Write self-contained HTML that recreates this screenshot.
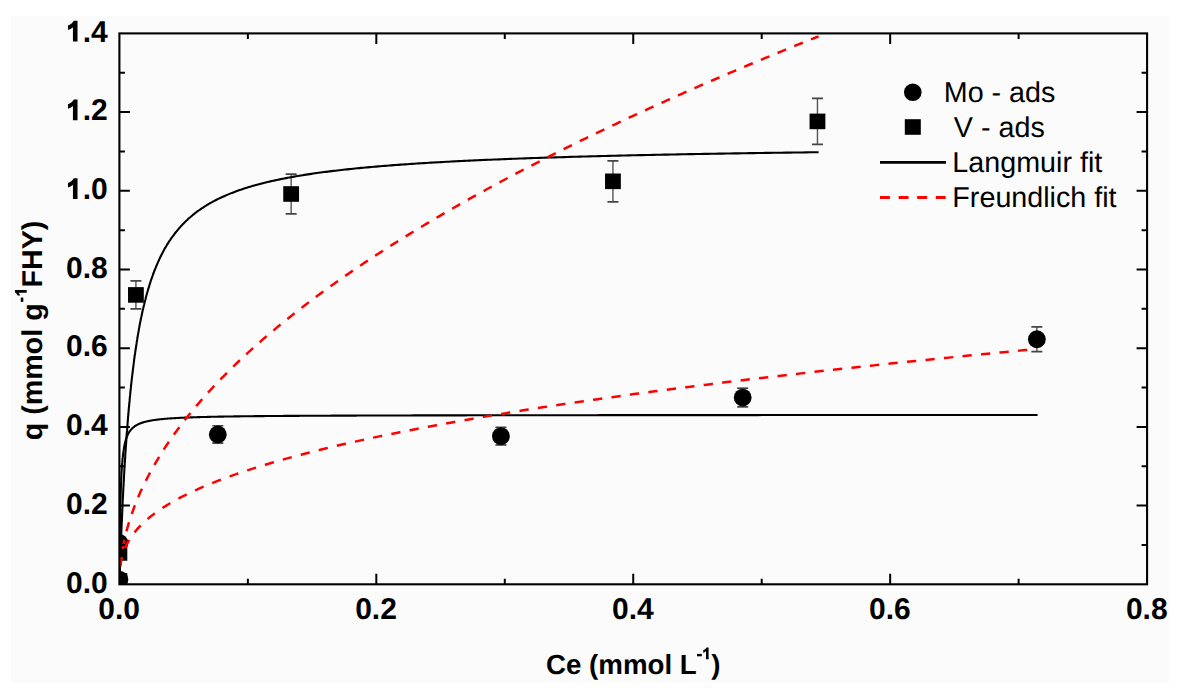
<!DOCTYPE html><html><head><meta charset="utf-8"><style>html,body{margin:0;padding:0;background:#fff;}svg{display:block;}text{font-family:"Liberation Sans",sans-serif;text-rendering:geometricPrecision;}</style></head><body>
<svg width="1182" height="694" viewBox="0 0 1182 694">
<rect x="11" y="16" width="1158" height="667" fill="#fcfbfb"/>
<defs><clipPath id="pc"><rect x="119.4" y="33.39999999999998" width="1027.68" height="550.9"/></clipPath></defs>
<g clip-path="url(#pc)">

<rect x="111.50" y="545.14" width="15.8" height="15.6" fill="#000"/>

<rect x="111.50" y="573.19" width="15.8" height="15.6" fill="#000"/>
<line x1="135.91" y1="280.91" x2="135.91" y2="308.93" stroke="#555" stroke-width="1.4"/><line x1="130.41" y1="280.91" x2="141.41" y2="280.91" stroke="#444" stroke-width="1.7"/><line x1="130.41" y1="308.93" x2="141.41" y2="308.93" stroke="#444" stroke-width="1.7"/>
<rect x="128.01" y="287.12" width="15.8" height="15.6" fill="#000"/>
<line x1="291.15" y1="174.19" x2="291.15" y2="213.78" stroke="#555" stroke-width="1.4"/><line x1="285.65" y1="174.19" x2="296.65" y2="174.19" stroke="#444" stroke-width="1.7"/><line x1="285.65" y1="213.78" x2="296.65" y2="213.78" stroke="#444" stroke-width="1.7"/>
<rect x="283.25" y="186.19" width="15.8" height="15.6" fill="#000"/>
<line x1="612.94" y1="160.85" x2="612.94" y2="201.78" stroke="#555" stroke-width="1.4"/><line x1="607.44" y1="160.85" x2="618.44" y2="160.85" stroke="#444" stroke-width="1.7"/><line x1="607.44" y1="201.78" x2="618.44" y2="201.78" stroke="#444" stroke-width="1.7"/>
<rect x="605.04" y="173.52" width="15.8" height="15.6" fill="#000"/>
<line x1="817.45" y1="98.37" x2="817.45" y2="144.41" stroke="#555" stroke-width="1.4"/><line x1="811.95" y1="98.37" x2="822.95" y2="98.37" stroke="#444" stroke-width="1.7"/><line x1="811.95" y1="144.41" x2="822.95" y2="144.41" stroke="#444" stroke-width="1.7"/>
<rect x="809.55" y="113.59" width="15.8" height="15.6" fill="#000"/>

<circle cx="119.40" cy="579.58" r="8.9" fill="#000"/>

<circle cx="119.40" cy="542.98" r="8.9" fill="#000"/>
<line x1="217.80" y1="425.76" x2="217.80" y2="443.15" stroke="#555" stroke-width="1.4"/><line x1="212.30" y1="425.76" x2="223.30" y2="425.76" stroke="#444" stroke-width="1.7"/><line x1="212.30" y1="443.15" x2="223.30" y2="443.15" stroke="#444" stroke-width="1.7"/>
<circle cx="217.80" cy="434.46" r="8.9" fill="#000"/>
<line x1="500.93" y1="427.33" x2="500.93" y2="444.96" stroke="#555" stroke-width="1.4"/><line x1="495.43" y1="427.33" x2="506.43" y2="427.33" stroke="#444" stroke-width="1.7"/><line x1="495.43" y1="444.96" x2="506.43" y2="444.96" stroke="#444" stroke-width="1.7"/>
<circle cx="500.93" cy="436.15" r="8.9" fill="#000"/>
<line x1="742.69" y1="388.22" x2="742.69" y2="406.87" stroke="#555" stroke-width="1.4"/><line x1="737.19" y1="388.22" x2="748.19" y2="388.22" stroke="#444" stroke-width="1.7"/><line x1="737.19" y1="406.87" x2="748.19" y2="406.87" stroke="#444" stroke-width="1.7"/>
<circle cx="742.69" cy="397.54" r="8.9" fill="#000"/>
<line x1="1036.86" y1="326.83" x2="1036.86" y2="351.62" stroke="#555" stroke-width="1.4"/><line x1="1031.36" y1="326.83" x2="1042.36" y2="326.83" stroke="#444" stroke-width="1.7"/><line x1="1031.36" y1="351.62" x2="1042.36" y2="351.62" stroke="#444" stroke-width="1.7"/>
<circle cx="1036.86" cy="339.23" r="8.9" fill="#000"/>
</g>
<g clip-path="url(#pc)" fill="none" stroke-linejoin="round">
<path d="M119.4 584.30L119.4 584.30L119.4 584.30L119.4 584.30L119.4 584.29L119.4 584.28L119.4 584.26L119.4 584.24L119.4 584.21L119.4 584.17L119.4 584.13L119.4 584.07L119.4 584.00L119.4 583.92L119.4 583.82L119.4 583.72L119.4 583.59L119.4 583.45L119.4 583.29L119.4 583.11L119.4 582.92L119.5 582.70L119.5 582.46L119.5 582.20L119.5 581.92L119.5 581.61L119.5 581.27L119.5 580.91L119.5 580.53L119.5 580.11L119.6 579.67L119.6 579.20L119.6 578.69L119.6 578.16L119.6 577.59L119.6 576.99L119.7 576.36L119.7 575.69L119.7 574.99L119.7 574.25L119.8 573.48L119.8 572.67L119.8 571.82L119.8 570.94L119.9 570.01L119.9 569.05L119.9 568.05L120.0 567.01L120.0 565.93L120.1 564.81L120.1 563.65L120.1 562.45L120.2 561.21L120.2 559.92L120.3 558.60L120.3 557.23L120.4 555.83L120.4 554.38L120.5 552.89L120.5 551.36L120.6 549.79L120.7 548.18L120.7 546.53L120.8 544.84L120.9 543.11L120.9 541.34L121.0 539.53L121.1 537.68L121.2 535.80L121.2 533.88L121.3 531.92L121.4 529.92L121.5 527.89L121.6 525.82L121.7 523.72L121.8 521.58L121.9 519.42L122.0 517.22L122.1 514.98L122.2 512.72L122.3 510.43L122.4 508.11L122.5 505.76L122.6 503.39L122.7 500.99L122.8 498.56L123.0 496.11L123.1 493.64L123.2 491.15L123.3 488.63L123.5 486.10L123.6 483.54L123.8 480.97L123.9 478.38L124.0 475.78L124.2 473.16L124.3 470.53L124.5 467.89L124.7 465.23L124.8 462.57L125.0 459.89L125.2 457.21L125.3 454.52L125.5 451.82L125.7 449.12L125.9 446.41L126.1 443.71L126.3 440.99L126.4 438.28L126.6 435.57L126.8 432.86L127.1 430.15L127.3 427.44L127.5 424.73L127.7 422.03L127.9 419.34L128.1 416.65L128.4 413.96L128.6 411.29L128.8 408.62L129.1 405.96L129.3 403.31L129.6 400.67L129.8 398.04L130.1 395.42L130.3 392.82L130.6 390.22L130.9 387.64L131.1 385.08L131.4 382.52L131.7 379.99L132.0 377.46L132.3 374.96L132.6 372.47L132.9 369.99L133.2 367.54L133.5 365.10L133.8 362.67L134.1 360.27L134.4 357.88L134.7 355.51L135.1 353.17L135.4 350.84L135.8 348.52L136.1 346.23L136.5 343.96L136.8 341.71L137.2 339.48L137.5 337.27L137.9 335.07L138.3 332.90L138.7 330.75L139.0 328.62L139.4 326.51L139.8 324.42L140.2 322.36L140.6 320.31L141.0 318.28L141.5 316.28L141.9 314.29L142.3 312.33L142.7 310.38L143.2 308.46L143.6 306.56L144.1 304.68L144.5 302.82L145.0 300.98L145.5 299.16L145.9 297.36L146.4 295.58L146.9 293.82L147.4 292.08L147.9 290.36L148.4 288.67L148.9 286.99L149.4 285.33L149.9 283.69L150.4 282.07L150.9 280.47L151.5 278.88L152.0 277.32L152.6 275.78L153.1 274.25L153.7 272.74L154.2 271.25L154.8 269.78L155.4 268.33L156.0 266.89L156.6 265.48L157.2 264.08L157.8 262.70L158.4 261.33L159.0 259.98L159.6 258.65L160.2 257.34L160.9 256.04L161.5 254.76L162.2 253.49L162.8 252.24L163.5 251.01L164.1 249.79L164.8 248.59L165.5 247.40L166.2 246.23L166.9 245.07L167.6 243.92L168.3 242.80L169.0 241.68L169.7 240.58L170.5 239.50L171.2 238.43L171.9 237.37L172.7 236.32L173.5 235.29L174.2 234.28L175.0 233.27L175.8 232.28L176.6 231.30L177.4 230.33L178.2 229.38L179.0 228.44L179.8 227.51L180.6 226.59L181.4 225.68L182.3 224.79L183.1 223.91L184.0 223.03L184.8 222.17L185.7 221.33L186.6 220.49L187.5 219.66L188.3 218.84L189.2 218.04L190.2 217.24L191.1 216.45L192.0 215.68L192.9 214.91L193.9 214.15L194.8 213.41L195.8 212.67L196.7 211.94L197.7 211.22L198.7 210.51L199.7 209.81L200.7 209.12L201.7 208.44L202.7 207.76L203.7 207.10L204.7 206.44L205.8 205.79L206.8 205.15L207.9 204.52L208.9 203.89L210.0 203.27L211.1 202.66L212.2 202.06L213.2 201.47L214.4 200.88L215.5 200.30L216.6 199.73L217.7 199.16L218.9 198.61L220.0 198.05L221.2 197.51L222.3 196.97L223.5 196.44L224.7 195.92L225.9 195.40L227.1 194.88L228.3 194.38L229.5 193.88L230.7 193.39L232.0 192.90L233.2 192.42L234.5 191.94L235.7 191.47L237.0 191.01L238.3 190.55L239.6 190.10L240.9 189.65L242.2 189.21L243.5 188.77L244.8 188.34L246.2 187.91L247.5 187.49L248.9 187.07L250.3 186.66L251.6 186.25L253.0 185.85L254.4 185.46L255.8 185.06L257.2 184.68L258.7 184.29L260.1 183.91L261.5 183.54L263.0 183.17L264.5 182.80L265.9 182.44L267.4 182.09L268.9 181.73L270.4 181.38L271.9 181.04L273.5 180.70L275.0 180.36L276.6 180.03L278.1 179.70L279.7 179.37L281.2 179.05L282.8 178.73L284.4 178.42L286.0 178.11L287.7 177.80L289.3 177.49L290.9 177.19L292.6 176.90L294.2 176.60L295.9 176.31L297.6 176.03L299.3 175.74L301.0 175.46L302.7 175.18L304.4 174.91L306.2 174.64L307.9 174.37L309.7 174.10L311.4 173.84L313.2 173.58L315.0 173.32L316.8 173.07L318.6 172.82L320.4 172.57L322.3 172.32L324.1 172.08L326.0 171.84L327.8 171.60L329.7 171.36L331.6 171.13L333.5 170.90L335.4 170.67L337.3 170.45L339.3 170.22L341.2 170.00L343.2 169.78L345.1 169.57L347.1 169.35L349.1 169.14L351.1 168.93L353.1 168.72L355.1 168.52L357.2 168.32L359.2 168.11L361.3 167.92L363.4 167.72L365.4 167.52L367.5 167.33L369.7 167.14L371.8 166.95L373.9 166.77L376.1 166.58L378.2 166.40L380.4 166.22L382.6 166.04L384.8 165.86L387.0 165.69L389.2 165.51L391.4 165.34L393.6 165.17L395.9 165.00L398.2 164.83L400.4 164.67L402.7 164.50L405.0 164.34L407.4 164.18L409.7 164.02L412.0 163.87L414.4 163.71L416.7 163.56L419.1 163.40L421.5 163.25L423.9 163.10L426.3 162.96L428.8 162.81L431.2 162.66L433.7 162.52L436.1 162.38L438.6 162.24L441.1 162.10L443.6 161.96L446.1 161.82L448.7 161.69L451.2 161.55L453.8 161.42L456.3 161.29L458.9 161.16L461.5 161.03L464.1 160.90L466.8 160.77L469.4 160.65L472.1 160.52L474.7 160.40L477.4 160.28L480.1 160.16L482.8 160.04L485.5 159.92L488.2 159.80L491.0 159.68L493.7 159.57L496.5 159.45L499.3 159.34L502.1 159.23L504.9 159.12L507.7 159.01L510.6 158.90L513.4 158.79L516.3 158.68L519.2 158.57L522.1 158.47L525.0 158.36L527.9 158.26L530.9 158.16L533.8 158.06L536.8 157.96L539.8 157.86L542.8 157.76L545.8 157.66L548.8 157.56L551.8 157.47L554.9 157.37L558.0 157.28L561.0 157.18L564.1 157.09L567.2 157.00L570.4 156.91L573.5 156.82L576.7 156.73L579.8 156.64L583.0 156.55L586.2 156.46L589.4 156.38L592.6 156.29L595.9 156.21L599.1 156.12L602.4 156.04L605.7 155.96L609.0 155.87L612.3 155.79L615.7 155.71L619.0 155.63L622.4 155.55L625.7 155.47L629.1 155.40L632.5 155.32L635.9 155.24L639.4 155.17L642.8 155.09L646.3 155.02L649.8 154.94L653.3 154.87L656.8 154.79L660.3 154.72L663.9 154.65L667.4 154.58L671.0 154.51L674.6 154.44L678.2 154.37L681.8 154.30L685.4 154.23L689.1 154.17L692.8 154.10L696.5 154.03L700.2 153.97L703.9 153.90L707.6 153.84L711.3 153.77L715.1 153.71L718.9 153.64L722.7 153.58L726.5 153.52L730.3 153.46L734.2 153.40L738.0 153.34L741.9 153.28L745.8 153.22L749.7 153.16L753.6 153.10L757.5 153.04L761.5 152.98L765.5 152.92L769.5 152.87L773.5 152.81L777.5 152.75L781.5 152.70L785.6 152.64L789.7 152.59L793.7 152.53L797.8 152.48L802.0 152.43L806.1 152.37L810.3 152.32L814.4 152.27L818.6 152.22" stroke="#000" stroke-width="2.1"/>
<path d="M119.4 584.30L119.4 584.30L119.4 584.29L119.4 584.27L119.4 584.23L119.4 584.16L119.4 584.06L119.4 583.92L119.4 583.73L119.4 583.49L119.4 583.19L119.4 582.83L119.4 582.40L119.4 581.89L119.4 581.30L119.4 580.62L119.4 579.85L119.4 578.99L119.4 578.04L119.5 576.98L119.5 575.83L119.5 574.57L119.5 573.21L119.5 571.74L119.5 570.17L119.5 568.50L119.5 566.74L119.5 564.87L119.6 562.92L119.6 560.87L119.6 558.74L119.6 556.53L119.6 554.25L119.7 551.90L119.7 549.48L119.7 547.02L119.7 544.50L119.8 541.94L119.8 539.35L119.8 536.73L119.9 534.09L119.9 531.43L119.9 528.76L120.0 526.10L120.0 523.43L120.1 520.78L120.1 518.14L120.2 515.52L120.2 512.92L120.3 510.36L120.3 507.82L120.4 505.32L120.4 502.86L120.5 500.44L120.6 498.06L120.6 495.73L120.7 493.45L120.8 491.21L120.8 489.03L120.9 486.90L121.0 484.82L121.1 482.79L121.2 480.81L121.2 478.89L121.3 477.01L121.4 475.19L121.5 473.42L121.6 471.71L121.7 470.04L121.8 468.42L121.9 466.85L122.0 465.33L122.1 463.85L122.3 462.42L122.4 461.04L122.5 459.69L122.6 458.39L122.8 457.14L122.9 455.92L123.0 454.74L123.2 453.60L123.3 452.49L123.5 451.43L123.6 450.39L123.8 449.39L123.9 448.42L124.1 447.49L124.2 446.58L124.4 445.71L124.6 444.86L124.8 444.04L124.9 443.24L125.1 442.48L125.3 441.73L125.5 441.01L125.7 440.32L125.9 439.64L126.1 438.99L126.3 438.36L126.5 437.75L126.7 437.16L127.0 436.58L127.2 436.03L127.4 435.49L127.7 434.97L127.9 434.46L128.1 433.97L128.4 433.50L128.7 433.04L128.9 432.59L129.2 432.16L129.4 431.74L129.7 431.34L130.0 430.94L130.3 430.56L130.6 430.19L130.9 429.83L131.2 429.48L131.5 429.14L131.8 428.81L132.1 428.49L132.4 428.18L132.7 427.88L133.1 427.59L133.4 427.30L133.7 427.03L134.1 426.76L134.4 426.50L134.8 426.24L135.2 425.99L135.5 425.75L135.9 425.52L136.3 425.29L136.7 425.07L137.1 424.86L137.5 424.65L137.9 424.44L138.3 424.25L138.7 424.05L139.1 423.86L139.6 423.68L140.0 423.50L140.4 423.33L140.9 423.16L141.3 422.99L141.8 422.83L142.3 422.68L142.7 422.52L143.2 422.38L143.7 422.23L144.2 422.09L144.7 421.95L145.2 421.82L145.7 421.68L146.2 421.56L146.8 421.43L147.3 421.31L147.8 421.19L148.4 421.07L148.9 420.96L149.5 420.85L150.1 420.74L150.6 420.63L151.2 420.53L151.8 420.43L152.4 420.33L153.0 420.23L153.6 420.14L154.2 420.05L154.9 419.96L155.5 419.87L156.1 419.78L156.8 419.70L157.4 419.62L158.1 419.54L158.8 419.46L159.4 419.38L160.1 419.30L160.8 419.23L161.5 419.16L162.2 419.09L163.0 419.02L163.7 418.95L164.4 418.88L165.2 418.82L165.9 418.76L166.7 418.69L167.4 418.63L168.2 418.57L169.0 418.51L169.8 418.46L170.6 418.40L171.4 418.35L172.2 418.29L173.0 418.24L173.9 418.19L174.7 418.14L175.6 418.09L176.4 418.04L177.3 417.99L178.2 417.94L179.1 417.90L179.9 417.85L180.9 417.81L181.8 417.76L182.7 417.72L183.6 417.68L184.6 417.64L185.5 417.60L186.5 417.56L187.4 417.52L188.4 417.48L189.4 417.44L190.4 417.41L191.4 417.37L192.4 417.33L193.4 417.30L194.5 417.27L195.5 417.23L196.6 417.20L197.6 417.17L198.7 417.14L199.8 417.10L200.9 417.07L202.0 417.04L203.1 417.01L204.2 416.98L205.3 416.96L206.5 416.93L207.6 416.90L208.8 416.87L209.9 416.85L211.1 416.82L212.3 416.79L213.5 416.77L214.7 416.74L216.0 416.72L217.2 416.69L218.4 416.67L219.7 416.65L220.9 416.62L222.2 416.60L223.5 416.58L224.8 416.56L226.1 416.54L227.4 416.52L228.8 416.49L230.1 416.47L231.4 416.45L232.8 416.43L234.2 416.41L235.6 416.39L237.0 416.38L238.4 416.36L239.8 416.34L241.2 416.32L242.6 416.30L244.1 416.29L245.6 416.27L247.0 416.25L248.5 416.23L250.0 416.22L251.5 416.20L253.0 416.19L254.6 416.17L256.1 416.15L257.7 416.14L259.2 416.12L260.8 416.11L262.4 416.09L264.0 416.08L265.6 416.07L267.2 416.05L268.9 416.04L270.5 416.02L272.2 416.01L273.8 416.00L275.5 415.98L277.2 415.97L278.9 415.96L280.7 415.95L282.4 415.93L284.1 415.92L285.9 415.91L287.7 415.90L289.5 415.89L291.2 415.88L293.1 415.86L294.9 415.85L296.7 415.84L298.6 415.83L300.4 415.82L302.3 415.81L304.2 415.80L306.1 415.79L308.0 415.78L309.9 415.77L311.8 415.76L313.8 415.75L315.8 415.74L317.7 415.73L319.7 415.72L321.7 415.71L323.7 415.70L325.8 415.69L327.8 415.68L329.9 415.68L331.9 415.67L334.0 415.66L336.1 415.65L338.2 415.64L340.4 415.63L342.5 415.62L344.7 415.62L346.8 415.61L349.0 415.60L351.2 415.59L353.4 415.59L355.6 415.58L357.9 415.57L360.1 415.56L362.4 415.56L364.7 415.55L366.9 415.54L369.2 415.53L371.6 415.53L373.9 415.52L376.3 415.51L378.6 415.51L381.0 415.50L383.4 415.49L385.8 415.49L388.2 415.48L390.7 415.48L393.1 415.47L395.6 415.46L398.1 415.46L400.5 415.45L403.1 415.45L405.6 415.44L408.1 415.43L410.7 415.43L413.2 415.42L415.8 415.42L418.4 415.41L421.0 415.41L423.7 415.40L426.3 415.39L429.0 415.39L431.7 415.38L434.4 415.38L437.1 415.37L439.8 415.37L442.5 415.36L445.3 415.36L448.0 415.35L450.8 415.35L453.6 415.34L456.4 415.34L459.3 415.34L462.1 415.33L465.0 415.33L467.9 415.32L470.8 415.32L473.7 415.31L476.6 415.31L479.6 415.30L482.5 415.30L485.5 415.30L488.5 415.29L491.5 415.29L494.5 415.28L497.6 415.28L500.6 415.28L503.7 415.27L506.8 415.27L509.9 415.26L513.0 415.26L516.2 415.26L519.3 415.25L522.5 415.25L525.7 415.25L528.9 415.24L532.1 415.24L535.3 415.23L538.6 415.23L541.9 415.23L545.2 415.22L548.5 415.22L551.8 415.22L555.1 415.21L558.5 415.21L561.9 415.21L565.3 415.20L568.7 415.20L572.1 415.20L575.6 415.19L579.0 415.19L582.5 415.19L586.0 415.19L589.5 415.18L593.1 415.18L596.6 415.18L600.2 415.17L603.8 415.17L607.4 415.17L611.0 415.16L614.7 415.16L618.3 415.16L622.0 415.16L625.7 415.15L629.4 415.15L633.1 415.15L636.9 415.15L640.6 415.14L644.4 415.14L648.2 415.14L652.1 415.13L655.9 415.13L659.8 415.13L663.6 415.13L667.5 415.12L671.5 415.12L675.4 415.12L679.3 415.12L683.3 415.12L687.3 415.11L691.3 415.11L695.3 415.11L699.4 415.11L703.4 415.10L707.5 415.10L711.6 415.10L715.8 415.10L719.9 415.09L724.1 415.09L728.2 415.09L732.4 415.09L736.7 415.09L740.9 415.08L745.1 415.08L749.4 415.08L753.7 415.08L758.0 415.08L762.4 415.07L766.7 415.07L771.1 415.07L775.5 415.07L779.9 415.07L784.3 415.06L788.8 415.06L793.3 415.06L797.8 415.06L802.3 415.06L806.8 415.06L811.4 415.05L815.9 415.05L820.5 415.05L825.1 415.05L829.8 415.05L834.4 415.04L839.1 415.04L843.8 415.04L848.5 415.04L853.2 415.04L858.0 415.04L862.8 415.03L867.6 415.03L872.4 415.03L877.2 415.03L882.1 415.03L886.9 415.03L891.8 415.02L896.8 415.02L901.7 415.02L906.7 415.02L911.7 415.02L916.7 415.02L921.7 415.02L926.7 415.01L931.8 415.01L936.9 415.01L942.0 415.01L947.1 415.01L952.3 415.01L957.4 415.01L962.6 415.00L967.9 415.00L973.1 415.00L978.4 415.00L983.6 415.00L988.9 415.00L994.3 415.00L999.6 415.00L1005.0 414.99L1010.4 414.99L1015.8 414.99L1021.2 414.99L1026.7 414.99L1032.1 414.99L1037.6 414.99" stroke="#000" stroke-width="2.1"/>
<path d="M119.6 574.82L119.7 574.41L119.7 573.98L119.7 573.56L119.7 573.12L119.8 572.68L119.8 572.23L119.8 571.78L119.8 571.33L119.9 570.86L119.9 570.39L119.9 569.92L120.0 569.44L120.0 568.95L120.1 568.46L120.1 567.97L120.1 567.47L120.2 566.96L120.2 566.45L120.3 565.93L120.3 565.41L120.4 564.89L120.4 564.35L120.5 563.82L120.5 563.28L120.6 562.73L120.7 562.18L120.7 561.62L120.8 561.06L120.9 560.50L120.9 559.93L121.0 559.35L121.1 558.78L121.2 558.19L121.2 557.60L121.3 557.01L121.4 556.41L121.5 555.81L121.6 555.21L121.7 554.60L121.8 553.98L121.9 553.36L122.0 552.74L122.1 552.11L122.2 551.48L122.3 550.85L122.4 550.21L122.5 549.56L122.6 548.91L122.7 548.26L122.8 547.60L123.0 546.94L123.1 546.28L123.2 545.61L123.3 544.94L123.5 544.26L123.6 543.58L123.8 542.89L123.9 542.21L124.0 541.51L124.2 540.82L124.3 540.12L124.5 539.41L124.7 538.70L124.8 537.99L125.0 537.28L125.2 536.56L125.3 535.83L125.5 535.11L125.7 534.38L125.9 533.64L126.1 532.91L126.3 532.16L126.4 531.42L126.6 530.67L126.8 529.92L127.1 529.16L127.3 528.40L127.5 527.64L127.7 526.87L127.9 526.10L128.1 525.33L128.4 524.55L128.6 523.77L128.8 522.98L129.1 522.20L129.3 521.40L129.6 520.61L129.8 519.81L130.1 519.01L130.3 518.21L130.6 517.40L130.9 516.58L131.1 515.77L131.4 514.95L131.7 514.13L132.0 513.30L132.3 512.48L132.6 511.64L132.9 510.81L133.2 509.97L133.5 509.13L133.8 508.28L134.1 507.44L134.4 506.58L134.7 505.73L135.1 504.87L135.4 504.01L135.8 503.15L136.1 502.28L136.5 501.41L136.8 500.53L137.2 499.66L137.5 498.78L137.9 497.89L138.3 497.01L138.7 496.12L139.0 495.23L139.4 494.33L139.8 493.43L140.2 492.53L140.6 491.62L141.0 490.72L141.5 489.81L141.9 488.89L142.3 487.98L142.7 487.06L143.2 486.13L143.6 485.21L144.1 484.28L144.5 483.34L145.0 482.41L145.5 481.47L145.9 480.53L146.4 479.59L146.9 478.64L147.4 477.69L147.9 476.74L148.4 475.78L148.9 474.82L149.4 473.86L149.9 472.90L150.4 471.93L150.9 470.96L151.5 469.99L152.0 469.01L152.6 468.03L153.1 467.05L153.7 466.07L154.2 465.08L154.8 464.09L155.4 463.10L156.0 462.10L156.6 461.10L157.2 460.10L157.8 459.10L158.4 458.09L159.0 457.08L159.6 456.07L160.2 455.06L160.9 454.04L161.5 453.02L162.2 451.99L162.8 450.97L163.5 449.94L164.1 448.91L164.8 447.87L165.5 446.84L166.2 445.80L166.9 444.75L167.6 443.71L168.3 442.66L169.0 441.61L169.7 440.56L170.5 439.50L171.2 438.44L171.9 437.38L172.7 436.32L173.5 435.25L174.2 434.18L175.0 433.11L175.8 432.04L176.6 430.96L177.4 429.88L178.2 428.80L179.0 427.72L179.8 426.63L180.6 425.54L181.4 424.45L182.3 423.35L183.1 422.25L184.0 421.15L184.8 420.05L185.7 418.95L186.6 417.84L187.5 416.73L188.3 415.61L189.2 414.50L190.2 413.38L191.1 412.26L192.0 411.14L192.9 410.01L193.9 408.88L194.8 407.75L195.8 406.62L196.7 405.49L197.7 404.35L198.7 403.21L199.7 402.06L200.7 400.92L201.7 399.77L202.7 398.62L203.7 397.47L204.7 396.31L205.8 395.15L206.8 393.99L207.9 392.83L208.9 391.67L210.0 390.50L211.1 389.33L212.2 388.16L213.2 386.98L214.4 385.80L215.5 384.63L216.6 383.44L217.7 382.26L218.9 381.07L220.0 379.88L221.2 378.69L222.3 377.50L223.5 376.30L224.7 375.10L225.9 373.90L227.1 372.70L228.3 371.49L229.5 370.28L230.7 369.07L232.0 367.86L233.2 366.65L234.5 365.43L235.7 364.21L237.0 362.99L238.3 361.76L239.6 360.53L240.9 359.30L242.2 358.07L243.5 356.84L244.8 355.60L246.2 354.36L247.5 353.12L248.9 351.88L250.3 350.64L251.6 349.39L253.0 348.14L254.4 346.89L255.8 345.63L257.2 344.37L258.7 343.12L260.1 341.85L261.5 340.59L263.0 339.32L264.5 338.06L265.9 336.79L267.4 335.51L268.9 334.24L270.4 332.96L271.9 331.68L273.5 330.40L275.0 329.12L276.6 327.83L278.1 326.54L279.7 325.25L281.2 323.96L282.8 322.66L284.4 321.37L286.0 320.07L287.7 318.77L289.3 317.46L290.9 316.16L292.6 314.85L294.2 313.54L295.9 312.23L297.6 310.91L299.3 309.59L301.0 308.27L302.7 306.95L304.4 305.63L306.2 304.30L307.9 302.98L309.7 301.65L311.4 300.31L313.2 298.98L315.0 297.64L316.8 296.31L318.6 294.96L320.4 293.62L322.3 292.28L324.1 290.93L326.0 289.58L327.8 288.23L329.7 286.88L331.6 285.52L333.5 284.16L335.4 282.80L337.3 281.44L339.3 280.08L341.2 278.71L343.2 277.34L345.1 275.97L347.1 274.60L349.1 273.22L351.1 271.85L353.1 270.47L355.1 269.09L357.2 267.70L359.2 266.32L361.3 264.93L363.4 263.54L365.4 262.15L367.5 260.76L369.7 259.36L371.8 257.97L373.9 256.57L376.1 255.16L378.2 253.76L380.4 252.35L382.6 250.95L384.8 249.54L387.0 248.12L389.2 246.71L391.4 245.29L393.6 243.88L395.9 242.46L398.2 241.03L400.4 239.61L402.7 238.18L405.0 236.76L407.4 235.33L409.7 233.89L412.0 232.46L414.4 231.02L416.7 229.58L419.1 228.14L421.5 226.70L423.9 225.26L426.3 223.81L428.8 222.36L431.2 220.91L433.7 219.46L436.1 218.01L438.6 216.55L441.1 215.09L443.6 213.63L446.1 212.17L448.7 210.70L451.2 209.24L453.8 207.77L456.3 206.30L458.9 204.83L461.5 203.35L464.1 201.88L466.8 200.40L469.4 198.92L472.1 197.44L474.7 195.95L477.4 194.47L480.1 192.98L482.8 191.49L485.5 190.00L488.2 188.50L491.0 187.01L493.7 185.51L496.5 184.01L499.3 182.51L502.1 181.00L504.9 179.50L507.7 177.99L510.6 176.48L513.4 174.97L516.3 173.46L519.2 171.94L522.1 170.43L525.0 168.91L527.9 167.39L530.9 165.86L533.8 164.34L536.8 162.81L539.8 161.28L542.8 159.75L545.8 158.22L548.8 156.69L551.8 155.15L554.9 153.61L558.0 152.07L561.0 150.53L564.1 148.99L567.2 147.44L570.4 145.90L573.5 144.35L576.7 142.80L579.8 141.24L583.0 139.69L586.2 138.13L589.4 136.57L592.6 135.01L595.9 133.45L599.1 131.89L602.4 130.32L605.7 128.75L609.0 127.18L612.3 125.61L615.7 124.04L619.0 122.46L622.4 120.88L625.7 119.30L629.1 117.72L632.5 116.14L635.9 114.56L639.4 112.97L642.8 111.38L646.3 109.79L649.8 108.20L653.3 106.60L656.8 105.01L660.3 103.41L663.9 101.81L667.4 100.21L671.0 98.61L674.6 97.00L678.2 95.40L681.8 93.79L685.4 92.18L689.1 90.56L692.8 88.95L696.5 87.34L700.2 85.72L703.9 84.10L707.6 82.48L711.3 80.85L715.1 79.23L718.9 77.60L722.7 75.97L726.5 74.34L730.3 72.71L734.2 71.08L738.0 69.44L741.9 67.81L745.8 66.17L749.7 64.52L753.6 62.88L757.5 61.24L761.5 59.59L765.5 57.94L769.5 56.29L773.5 54.64L777.5 52.99L781.5 51.33L785.6 49.68L789.7 48.02L793.7 46.36L797.8 44.69L802.0 43.03L806.1 41.36L810.3 39.70L814.4 38.03L818.6 36.36" stroke="#f00" stroke-width="2.5" stroke-dasharray="9.3 8.75" stroke-dashoffset="9.85"/>
<path d="M119.5 574.94L119.6 574.56L119.6 574.17L119.6 573.78L119.6 573.40L119.6 573.01L119.7 572.62L119.7 572.23L119.7 571.83L119.7 571.44L119.8 571.04L119.8 570.65L119.8 570.25L119.9 569.85L119.9 569.45L119.9 569.05L120.0 568.65L120.0 568.25L120.1 567.84L120.1 567.44L120.2 567.03L120.2 566.63L120.3 566.22L120.3 565.81L120.4 565.40L120.4 564.99L120.5 564.58L120.6 564.17L120.6 563.76L120.7 563.35L120.8 562.93L120.8 562.52L120.9 562.10L121.0 561.69L121.1 561.27L121.1 560.85L121.2 560.44L121.3 560.02L121.4 559.60L121.5 559.18L121.6 558.76L121.7 558.33L121.8 557.91L121.9 557.49L122.0 557.07L122.1 556.64L122.3 556.22L122.4 555.79L122.5 555.37L122.6 554.94L122.7 554.51L122.9 554.09L123.0 553.66L123.2 553.23L123.3 552.80L123.4 552.37L123.6 551.94L123.7 551.51L123.9 551.08L124.1 550.64L124.2 550.21L124.4 549.78L124.6 549.35L124.7 548.91L124.9 548.48L125.1 548.04L125.3 547.61L125.5 547.17L125.7 546.73L125.9 546.30L126.1 545.86L126.3 545.42L126.5 544.98L126.7 544.54L127.0 544.10L127.2 543.66L127.4 543.22L127.6 542.78L127.9 542.34L128.1 541.90L128.4 541.46L128.6 541.02L128.9 540.57L129.2 540.13L129.4 539.69L129.7 539.24L130.0 538.80L130.3 538.35L130.6 537.91L130.8 537.46L131.1 537.01L131.4 536.57L131.8 536.12L132.1 535.67L132.4 535.23L132.7 534.78L133.0 534.33L133.4 533.88L133.7 533.43L134.1 532.98L134.4 532.53L134.8 532.08L135.1 531.63L135.5 531.18L135.9 530.73L136.3 530.28L136.7 529.82L137.0 529.37L137.4 528.92L137.8 528.46L138.3 528.01L138.7 527.56L139.1 527.10L139.5 526.65L140.0 526.19L140.4 525.74L140.8 525.28L141.3 524.83L141.8 524.37L142.2 523.91L142.7 523.45L143.2 523.00L143.7 522.54L144.1 522.08L144.6 521.62L145.2 521.16L145.7 520.71L146.2 520.25L146.7 519.79L147.2 519.33L147.8 518.87L148.3 518.41L148.9 517.95L149.4 517.48L150.0 517.02L150.6 516.56L151.2 516.10L151.7 515.64L152.3 515.17L152.9 514.71L153.6 514.25L154.2 513.78L154.8 513.32L155.4 512.86L156.1 512.39L156.7 511.93L157.4 511.46L158.0 511.00L158.7 510.53L159.4 510.07L160.1 509.60L160.8 509.13L161.5 508.67L162.2 508.20L162.9 507.73L163.6 507.27L164.3 506.80L165.1 506.33L165.8 505.86L166.6 505.39L167.3 504.93L168.1 504.46L168.9 503.99L169.7 503.52L170.5 503.05L171.3 502.58L172.1 502.11L172.9 501.64L173.8 501.17L174.6 500.69L175.5 500.22L176.3 499.75L177.2 499.28L178.1 498.81L178.9 498.34L179.8 497.86L180.7 497.39L181.7 496.92L182.6 496.44L183.5 495.97L184.4 495.50L185.4 495.02L186.3 494.55L187.3 494.07L188.3 493.60L189.3 493.12L190.3 492.65L191.3 492.17L192.3 491.70L193.3 491.22L194.3 490.75L195.4 490.27L196.4 489.79L197.5 489.32L198.5 488.84L199.6 488.36L200.7 487.89L201.8 487.41L202.9 486.93L204.0 486.45L205.2 485.97L206.3 485.49L207.5 485.02L208.6 484.54L209.8 484.06L211.0 483.58L212.2 483.10L213.4 482.62L214.6 482.14L215.8 481.66L217.0 481.18L218.3 480.70L219.5 480.22L220.8 479.73L222.0 479.25L223.3 478.77L224.6 478.29L225.9 477.81L227.2 477.33L228.6 476.84L229.9 476.36L231.2 475.88L232.6 475.39L234.0 474.91L235.4 474.43L236.7 473.94L238.1 473.46L239.6 472.98L241.0 472.49L242.4 472.01L243.9 471.52L245.3 471.04L246.8 470.55L248.3 470.07L249.8 469.58L251.3 469.10L252.8 468.61L254.3 468.13L255.9 467.64L257.4 467.15L259.0 466.67L260.5 466.18L262.1 465.69L263.7 465.21L265.3 464.72L267.0 464.23L268.6 463.74L270.2 463.26L271.9 462.77L273.6 462.28L275.2 461.79L276.9 461.30L278.6 460.81L280.4 460.32L282.1 459.83L283.8 459.35L285.6 458.86L287.4 458.37L289.1 457.88L290.9 457.39L292.7 456.90L294.6 456.41L296.4 455.91L298.2 455.42L300.1 454.93L302.0 454.44L303.8 453.95L305.7 453.46L307.6 452.97L309.6 452.48L311.5 451.98L313.4 451.49L315.4 451.00L317.4 450.51L319.4 450.01L321.4 449.52L323.4 449.03L325.4 448.53L327.4 448.04L329.5 447.55L331.6 447.05L333.6 446.56L335.7 446.07L337.8 445.57L340.0 445.08L342.1 444.58L344.2 444.09L346.4 443.59L348.6 443.10L350.8 442.60L353.0 442.11L355.2 441.61L357.4 441.12L359.7 440.62L361.9 440.12L364.2 439.63L366.5 439.13L368.8 438.64L371.1 438.14L373.4 437.64L375.8 437.14L378.1 436.65L380.5 436.15L382.9 435.65L385.3 435.16L387.7 434.66L390.2 434.16L392.6 433.66L395.1 433.16L397.5 432.66L400.0 432.17L402.5 431.67L405.1 431.17L407.6 430.67L410.1 430.17L412.7 429.67L415.3 429.17L417.9 428.67L420.5 428.17L423.1 427.67L425.8 427.17L428.4 426.67L431.1 426.17L433.8 425.67L436.5 425.17L439.2 424.67L441.9 424.17L444.7 423.67L447.4 423.17L450.2 422.66L453.0 422.16L455.8 421.66L458.7 421.16L461.5 420.66L464.4 420.15L467.2 419.65L470.1 419.15L473.0 418.65L476.0 418.14L478.9 417.64L481.9 417.14L484.8 416.64L487.8 416.13L490.8 415.63L493.8 415.12L496.9 414.62L499.9 414.12L503.0 413.61L506.1 413.11L509.2 412.60L512.3 412.10L515.4 411.60L518.6 411.09L521.7 410.59L524.9 410.08L528.1 409.58L531.4 409.07L534.6 408.56L537.8 408.06L541.1 407.55L544.4 407.05L547.7 406.54L551.0 406.04L554.4 405.53L557.7 405.02L561.1 404.52L564.5 404.01L567.9 403.50L571.3 403.00L574.7 402.49L578.2 401.98L581.7 401.47L585.2 400.97L588.7 400.46L592.2 399.95L595.8 399.44L599.3 398.94L602.9 398.43L606.5 397.92L610.1 397.41L613.8 396.90L617.4 396.39L621.1 395.88L624.8 395.38L628.5 394.87L632.2 394.36L635.9 393.85L639.7 393.34L643.5 392.83L647.3 392.32L651.1 391.81L654.9 391.30L658.8 390.79L662.7 390.28L666.5 389.77L670.4 389.26L674.4 388.75L678.3 388.24L682.3 387.73L686.3 387.22L690.3 386.70L694.3 386.19L698.3 385.68L702.4 385.17L706.5 384.66L710.6 384.15L714.7 383.64L718.8 383.12L723.0 382.61L727.1 382.10L731.3 381.59L735.5 381.07L739.8 380.56L744.0 380.05L748.3 379.54L752.6 379.02L756.9 378.51L761.2 378.00L765.5 377.48L769.9 376.97L774.3 376.46L778.7 375.94L783.1 375.43L787.6 374.92L792.0 374.40L796.5 373.89L801.0 373.37L805.6 372.86L810.1 372.34L814.7 371.83L819.2 371.31L823.8 370.80L828.5 370.28L833.1 369.77L837.8 369.25L842.5 368.74L847.2 368.22L851.9 367.71L856.6 367.19L861.4 366.68L866.2 366.16L871.0 365.64L875.8 365.13L880.7 364.61L885.6 364.10L890.4 363.58L895.4 363.06L900.3 362.55L905.2 362.03L910.2 361.51L915.2 361.00L920.2 360.48L925.3 359.96L930.3 359.44L935.4 358.93L940.5 358.41L945.6 357.89L950.8 357.37L955.9 356.85L961.1 356.34L966.3 355.82L971.5 355.30L976.8 354.78L982.1 354.26L987.4 353.74L992.7 353.23L998.0 352.71L1003.4 352.19L1008.7 351.67L1014.1 351.15L1019.6 350.63L1025.0 350.11L1030.5 349.59L1036.0 349.07" stroke="#f00" stroke-width="2.5" stroke-dasharray="9.3 9.30" stroke-dashoffset="9.65"/>
</g>
<rect x="119.4" y="33.39999999999998" width="1027.68" height="550.90" fill="none" stroke="#000" stroke-width="2.1"/>
<path d="M247.86 584.3V578.80M247.86 33.39999999999998V38.90M376.32 584.3V573.80M376.32 33.39999999999998V43.90M504.78 584.3V578.80M504.78 33.39999999999998V38.90M633.24 584.3V573.80M633.24 33.39999999999998V43.90M761.70 584.3V578.80M761.70 33.39999999999998V38.90M890.16 584.3V573.80M890.16 33.39999999999998V43.90M1018.62 584.3V578.80M1018.62 33.39999999999998V38.90M119.4 544.95H124.90M1147.08 544.95H1141.58M119.4 505.60H129.90M1147.08 505.60H1136.58M119.4 466.25H124.90M1147.08 466.25H1141.58M119.4 426.90H129.90M1147.08 426.90H1136.58M119.4 387.55H124.90M1147.08 387.55H1141.58M119.4 348.20H129.90M1147.08 348.20H1136.58M119.4 308.85H124.90M1147.08 308.85H1141.58M119.4 269.50H129.90M1147.08 269.50H1136.58M119.4 230.15H124.90M1147.08 230.15H1141.58M119.4 190.80H129.90M1147.08 190.80H1136.58M119.4 151.45H124.90M1147.08 151.45H1141.58M119.4 112.10H129.90M1147.08 112.10H1136.58M119.4 72.75H124.90M1147.08 72.75H1141.58" stroke="#000" stroke-width="2" fill="none"/>
<text x="107.7" y="592.50" font-size="30" font-weight="bold" text-anchor="end">0.0</text>
<text x="107.7" y="513.80" font-size="30" font-weight="bold" text-anchor="end">0.2</text>
<text x="107.7" y="435.10" font-size="30" font-weight="bold" text-anchor="end">0.4</text>
<text x="107.7" y="356.40" font-size="30" font-weight="bold" text-anchor="end">0.6</text>
<text x="107.7" y="277.70" font-size="30" font-weight="bold" text-anchor="end">0.8</text>
<text x="107.7" y="199.00" font-size="30" font-weight="bold" text-anchor="end">.0</text>
<path transform="translate(66.00 199.00) scale(30 -30)" d="M0.384 0H0.231V0.475C0.18 0.43 0.12 0.40 0.066 0.383V0.533C0.14 0.56 0.22 0.62 0.262 0.693H0.384Z"/>
<text x="107.7" y="120.30" font-size="30" font-weight="bold" text-anchor="end">.2</text>
<path transform="translate(66.00 120.30) scale(30 -30)" d="M0.384 0H0.231V0.475C0.18 0.43 0.12 0.40 0.066 0.383V0.533C0.14 0.56 0.22 0.62 0.262 0.693H0.384Z"/>
<text x="107.7" y="41.60" font-size="30" font-weight="bold" text-anchor="end">.4</text>
<path transform="translate(66.00 41.60) scale(30 -30)" d="M0.384 0H0.231V0.475C0.18 0.43 0.12 0.40 0.066 0.383V0.533C0.14 0.56 0.22 0.62 0.262 0.693H0.384Z"/>
<text x="119.10" y="618.5" font-size="30" font-weight="bold" text-anchor="middle">0.0</text>
<text x="376.02" y="618.5" font-size="30" font-weight="bold" text-anchor="middle">0.2</text>
<text x="632.94" y="618.5" font-size="30" font-weight="bold" text-anchor="middle">0.4</text>
<text x="889.86" y="618.5" font-size="30" font-weight="bold" text-anchor="middle">0.6</text>
<text x="1146.78" y="618.5" font-size="30" font-weight="bold" text-anchor="middle">0.8</text>
<text x="545.96" y="674.3" font-size="27.7" font-weight="bold">Ce (mmol L</text>
<rect x="697" y="653.9" width="4.8" height="2.4" fill="#000"/>
<path transform="translate(702.08 659.20) scale(17 -17)" d="M0.384 0H0.231V0.475C0.18 0.43 0.12 0.40 0.066 0.383V0.533C0.14 0.56 0.22 0.62 0.262 0.693H0.384Z"/>
<text x="711.20" y="674.3" font-size="27.7" font-weight="bold">)</text>
<text transform="translate(42.2 440.17) rotate(-90)" font-size="28.65" font-weight="bold">q (mmol g</text>
<rect x="20.8" y="297.6" width="2.5" height="4.3" fill="#000"/>
<path transform="translate(26.70 296.62) rotate(-90) scale(17 -17)" d="M0.384 0H0.231V0.475C0.18 0.43 0.12 0.40 0.066 0.383V0.533C0.14 0.56 0.22 0.62 0.262 0.693H0.384Z"/>
<text transform="translate(42.2 287.52) rotate(-90)" font-size="28.65" font-weight="bold">FHY)</text>
<circle cx="912.8" cy="92.3" r="8.8" fill="#000"/>
<rect x="904.8" y="119.2" width="16" height="15.6" fill="#000"/>
<line x1="880" y1="162.4" x2="946" y2="162.4" stroke="#000" stroke-width="2.6"/>
<line x1="880" y1="197.6" x2="946" y2="197.6" stroke="#f00" stroke-width="3" stroke-dasharray="9.9 8.7"/>
<text x="943.75" y="101.6" font-size="28.7">Mo - ads</text>
<text x="953.87" y="136.8" font-size="28.7">V - ads</text>
<text x="952.35" y="171.9" font-size="28.7">Langmuir fit</text>
<text x="952.35" y="207.1" font-size="28.7">Freundlich fit</text>
</svg></body></html>
